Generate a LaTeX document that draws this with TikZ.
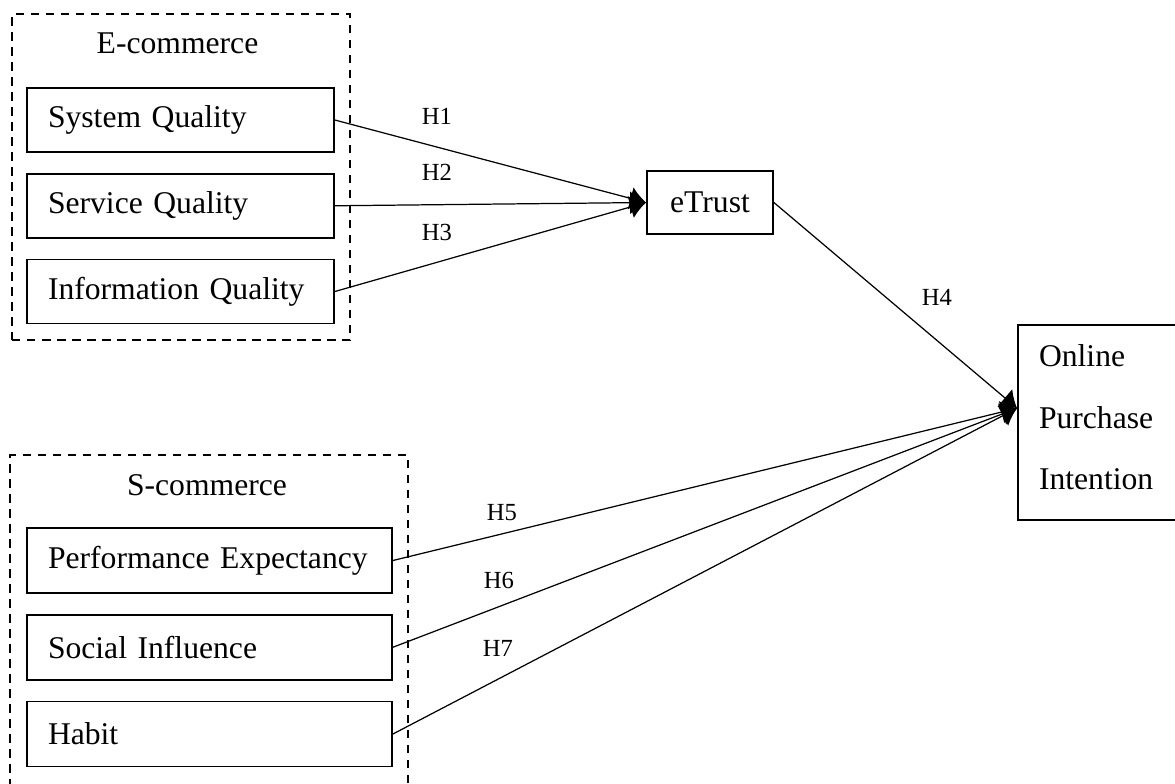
\documentclass[tikz,border=0pt]{standalone}
\usepackage{fontspec}
\setmainfont{Liberation Serif}
\usetikzlibrary{positioning,arrows.meta}

\begin{document}
\begin{tikzpicture}[
  node distance=4mm,
  group/.style={draw, inner sep=0pt, line width=1.4pt, dash pattern=on 1.7mm off 1.3mm},
  box/.style={draw, line width=1pt, align=left, text width=#1, inner xsep=4.2mm, minimum height=12.8mm, font=\fontsize{18}{22}\selectfont},
  cbox/.style={draw, line width=1pt, minimum width=25.2mm, minimum height=12.6mm, font=\fontsize{18}{22}\selectfont},
  title/.style={font=\fontsize{18}{22}\selectfont},
  hyp/.style={font=\fontsize{14}{17}\selectfont},
  arr/.style={-{Latex[length=3.2mm,width=4.6mm]}, line width=0.7pt}
]
\useasboundingbox (0,0) rectangle (23.5,-15.66);

% e-commerce group
\node[group, minimum width=67.6mm, minimum height=65.2mm] (ecom) at (3.62,-3.54) {};
\node[title] (ecomtitle) at (3.55,-0.87) {E-commerce};
\node[box=53mm] (sysq) at (3.61,-2.4) {System Quality};
\node[box=53mm, below=of sysq] (servq) {Service Quality};
\node[box=53mm, below=of servq] (infoq) {Information Quality};

% s-commerce group
\node[group, minimum width=79.6mm, minimum height=70mm] (scom) at (4.18,-12.6) {};
\node[title] (scomtitle) at (4.14,-9.7) {S-commerce};
\node[box=64.6mm, minimum height=13mm] (perf) at (4.19,-11.21) {Performance Expectancy};
\node[box=64.6mm, minimum height=13mm, below=of perf] (social) {Social Influence};
\node[box=64.6mm, minimum height=13mm, below=of social] (habit) {Habit};

\node[cbox] (etrust) at (14.2,-4.05) {eTrust};
\node[box=23.6mm, minimum height=39mm, font=\fontsize{18}{35}\selectfont] (opi) at (21.96,-8.45) {Online\\Purchase\\Intention\rule[-6pt]{0pt}{6pt}};

\draw[arr] (sysq.east) -- (etrust.west);
\draw[arr] (servq.east) -- (etrust.west);
\draw[arr] (infoq.east) -- (etrust.west);
\draw[arr] (etrust.east) -- (opi.170);
\draw[arr] (perf.east) -- (opi.170);
\draw[arr] (social.east) -- (opi.170);
\draw[arr] (habit.east) -- (opi.170);

\node[hyp] (h1) at (8.74,-2.32) {H1};
\node[hyp] (h2) at (8.74,-3.44) {H2};
\node[hyp] (h3) at (8.74,-4.64) {H3};
\node[hyp] (h4) at (18.74,-5.94) {H4};
\node[hyp] (h5) at (10.04,-10.26) {H5};
\node[hyp] (h6) at (9.98,-11.6) {H6};
\node[hyp] (h7) at (9.96,-12.96) {H7};
\end{tikzpicture}
\end{document}
